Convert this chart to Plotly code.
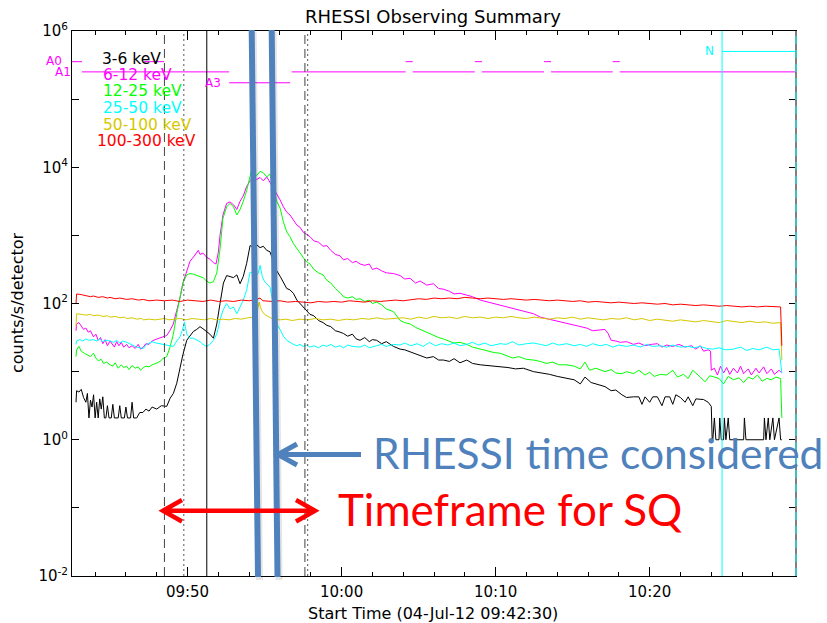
import numpy as np
import pandas as pd
import plotly.graph_objects as go

# ---------------- data (minutes after 09:42:30 ; log10 counts/s/detector) ----------------
START = pd.Timestamp("2012-07-04 09:42:30")
END_MIN = 47.0

t_3_6 = [0.26, 0.30, 0.45, 0.60, 0.75, 0.90, 1.00, 1.10, 1.20, 1.30, 1.40, 1.50, 1.60, 1.70, 1.80, 1.90, 2.00,
         2.10, 2.20, 2.30, 2.40, 2.55, 2.65, 2.75, 3.00, 3.10, 3.20, 3.40, 3.50, 3.60, 3.80, 3.90, 4.00, 4.20,
         4.40, 4.60, 4.80, 5.00, 5.20, 5.50, 5.80, 6.00, 6.15, 6.37, 6.58, 6.80, 7.01, 7.20, 7.45, 7.66, 7.88,
         8.10, 8.31, 8.50, 8.74, 8.95, 9.18, 9.40, 9.61, 9.83, 10.04, 10.26, 10.48, 10.70, 10.91, 11.12, 11.34,
         11.56, 11.77, 12.00, 12.21, 12.42, 12.64, 12.85, 13.07, 13.29, 13.51, 13.72, 13.94, 14.15, 14.37, 14.60,
         14.80, 15.00, 15.20, 15.45, 15.70, 16.00, 16.30, 16.54, 16.80, 17.10, 17.40, 17.62, 17.90, 18.20, 18.45,
         18.70, 19.00, 19.30, 19.50, 19.78, 20.10, 20.40, 20.87, 21.30, 21.60, 21.95, 22.30, 22.60, 23.03, 23.46,
         23.80, 24.11, 24.50, 24.80, 25.19, 25.63, 26.00, 26.50, 27.00, 27.79, 28.30, 28.80, 29.30, 29.96, 30.50,
         31.00, 31.50, 32.12, 32.60, 33.00, 33.30, 33.70, 34.29, 34.60, 35.00, 35.30, 35.70, 36.00, 36.45, 36.80,
         37.00, 37.20, 37.50, 37.70, 38.00, 38.30, 38.50, 38.80, 39.00, 39.20, 39.50, 39.80, 40.00, 40.30, 40.50,
         40.78, 41.00, 41.30, 41.50, 41.56, 41.60, 41.70, 41.80, 42.00, 42.05, 42.15, 42.30, 42.35, 42.45, 42.60,
         42.70, 43.60, 43.65, 43.75, 44.90, 44.95, 45.05, 45.20, 45.30, 45.50, 45.60, 45.90, 46.00, 46.08]
lg_3_6 = [0.55, 0.72, 0.70, 0.74, 0.62, 0.55, 0.68, 0.32, 0.58, 0.48, 0.66, 0.32, 0.55, 0.32, 0.60, 0.45, 0.63,
          0.32, 0.32, 0.50, 0.32, 0.32, 0.52, 0.32, 0.32, 0.50, 0.32, 0.32, 0.48, 0.32, 0.32, 0.55, 0.32, 0.32,
          0.40, 0.40, 0.45, 0.42, 0.48, 0.45, 0.50, 0.49, 0.49, 0.61, 0.68, 0.83, 1.07, 1.25, 1.46, 1.52, 1.59,
          1.62, 1.66, 1.63, 1.59, 1.55, 1.49, 1.70, 2.00, 2.30, 2.41, 2.40, 2.38, 2.42, 2.29, 2.40, 2.59,
          2.85, 2.83, 2.86, 2.82, 2.84, 2.78, 2.76, 2.62, 2.48, 2.40, 2.30, 2.22, 2.20, 2.15, 2.05,
          2.00, 1.95, 1.90, 1.84, 1.82, 1.75, 1.72, 1.68, 1.66, 1.60, 1.58, 1.56, 1.52, 1.55, 1.48,
          1.46, 1.50, 1.44, 1.47, 1.46, 1.41, 1.44, 1.37, 1.33, 1.32, 1.29, 1.26, 1.24, 1.20, 1.22,
          1.17, 1.17, 1.15, 1.19, 1.13, 1.17, 1.12, 1.10, 1.09, 1.07, 1.06, 1.04, 1.05, 1.00, 0.98,
          0.96, 0.93, 0.90, 0.88, 0.82, 0.92, 0.84, 0.80, 0.78, 0.72, 0.73, 0.66, 0.62, 0.63, 0.63,
          0.52, 0.63, 0.55, 0.63, 0.63, 0.50, 0.63, 0.63, 0.52, 0.66, 0.62, 0.55, 0.63, 0.50, 0.60,
          0.59, 0.59, 0.55, 0.49, 0.00, 0.00, 0.32, 0.00, 0.00, 0.32, 0.00, 0.00, 0.32, 0.00, 0.32,
          0.00, 0.00, 0.32, 0.00, 0.00, 0.32, 0.00, 0.32, 0.00, 0.32, 0.00, 0.32, 0.00, 0.00]

t_6_12 = [0.26, 0.30, 0.45, 0.60, 0.75, 0.90, 1.05, 1.20, 1.39, 1.55, 1.70, 1.85, 2.00, 2.15, 2.30, 2.47, 2.60,
          2.75, 2.90, 3.05, 3.20, 3.35, 3.55, 3.70, 3.90, 4.10, 4.30, 4.45, 4.63, 4.80, 5.00, 5.20, 5.40, 5.71,
          5.90, 6.15, 6.35, 6.58, 6.80, 7.01, 7.20, 7.45, 7.66, 7.88, 8.10, 8.20, 8.31, 8.50, 8.74, 8.95, 9.18,
          9.35, 9.50, 9.61, 9.80, 10.04, 10.26, 10.48, 10.70, 10.80, 10.91, 11.12, 11.34, 11.56, 11.77, 12.00,
          12.21, 12.42, 12.64, 12.85, 13.07, 13.29, 13.51, 13.72, 13.94, 14.15, 14.37, 14.60, 14.80, 15.00, 15.20,
          15.45, 15.70, 16.00, 16.30, 16.54, 16.80, 17.10, 17.40, 17.62, 17.90, 18.20, 18.45, 18.70, 19.00, 19.30,
          19.50, 19.78, 20.10, 20.40, 20.87, 21.30, 21.60, 21.95, 22.30, 22.60, 23.03, 23.46, 23.80, 24.11, 24.50,
          24.80, 25.19, 25.63, 26.00, 26.50, 27.00, 27.40, 27.79, 28.20, 28.60, 29.00, 29.50, 29.96, 30.40, 30.80,
          31.20, 31.60, 32.12, 32.60, 33.00, 33.40, 33.80, 34.29, 34.60, 34.80, 35.00, 35.30, 35.60, 36.00, 36.45,
          36.80, 37.20, 37.60, 38.00, 38.30, 38.61, 39.00, 39.40, 39.80, 40.20, 40.50, 40.78, 41.00, 41.30, 41.45,
          41.50, 41.70, 41.90, 42.10, 42.30, 42.50, 42.70, 42.94, 43.20, 43.40, 43.60, 43.90, 44.10, 44.40, 44.60,
          44.90, 45.11, 45.40, 45.60, 45.90, 46.08]
lg_6_12 = [1.60, 1.70, 1.72, 1.66, 1.62, 1.64, 1.58, 1.60, 1.51, 1.55, 1.46, 1.50, 1.41, 1.47, 1.38, 1.45, 1.40,
           1.36, 1.44, 1.38, 1.43, 1.36, 1.40, 1.35, 1.38, 1.34, 1.40, 1.33, 1.36, 1.41, 1.40, 1.45, 1.47, 1.49,
           1.51, 1.53, 1.60, 1.70, 1.90, 2.08, 2.30, 2.49, 2.62, 2.68, 2.74, 2.78, 2.72, 2.74, 2.68, 2.65, 2.60,
           2.58, 2.75, 3.00, 3.30, 3.47, 3.49, 3.45, 3.38, 3.45, 3.50, 3.58, 3.72, 3.80, 3.86, 3.82,
           3.85, 3.80, 3.86, 3.78, 3.70, 3.62, 3.52, 3.42, 3.34, 3.30, 3.22, 3.15, 3.12, 3.05, 3.02,
           2.98, 2.92, 2.90, 2.84, 2.85, 2.78, 2.72, 2.70, 2.64, 2.66, 2.60, 2.62, 2.58, 2.56, 2.58,
           2.50, 2.52, 2.48, 2.45, 2.44, 2.41, 2.36, 2.37, 2.30, 2.33, 2.27, 2.29, 2.22, 2.21, 2.18,
           2.14, 2.15, 2.12, 2.10, 2.05, 2.02, 2.00, 1.98, 1.95, 1.93, 1.90, 1.87, 1.85, 1.80, 1.78,
           1.75, 1.74, 1.71, 1.68, 1.66, 1.64, 1.60, 1.61, 1.62, 1.56, 1.46, 1.45, 1.43, 1.44, 1.40,
           1.42, 1.38, 1.40, 1.41, 1.36, 1.39, 1.37, 1.40, 1.36, 1.38, 1.33, 1.38, 1.30, 1.32, 1.30,
           1.02, 1.05, 0.95, 1.08, 0.98, 1.06, 0.96, 1.05, 0.98, 1.08, 0.97, 1.04, 0.95, 1.05, 0.98,
           1.07, 0.97, 1.04, 0.96, 1.02, 0.98]

t_12_25 = [0.26, 0.30, 0.45, 0.60, 0.80, 1.00, 1.20, 1.39, 1.55, 1.70, 1.90, 2.05, 2.25, 2.47, 2.65, 2.80, 3.00,
           3.20, 3.35, 3.55, 3.70, 3.90, 4.10, 4.30, 4.45, 4.63, 4.80, 5.00, 5.20, 5.45, 5.71, 5.90, 6.15, 6.35,
           6.58, 6.80, 7.01, 7.20, 7.45, 7.66, 7.88, 8.10, 8.31, 8.50, 8.74, 8.95, 9.18, 9.40, 9.61, 9.80, 10.04,
           10.26, 10.48, 10.70, 10.91, 11.12, 11.34, 11.56, 11.70, 11.77, 12.00, 12.21, 12.42, 12.64, 12.85, 13.07,
           13.29, 13.51, 13.72, 13.94, 14.15, 14.37, 14.60, 14.80, 15.00, 15.20, 15.45, 15.70, 16.00, 16.30, 16.54,
           16.80, 17.10, 17.40, 17.62, 17.90, 18.20, 18.45, 18.70, 19.00, 19.30, 19.50, 19.78, 20.10, 20.40, 20.87,
           21.30, 21.60, 21.95, 22.30, 22.60, 23.03, 23.46, 23.80, 24.11, 24.50, 24.80, 25.19, 25.63, 26.00, 26.50,
           27.00, 27.40, 27.79, 28.20, 28.60, 29.00, 29.50, 29.96, 30.40, 30.80, 31.20, 31.60, 32.12, 32.60, 33.00,
           33.30, 33.60, 34.00, 34.29, 34.60, 35.00, 35.30, 35.70, 36.00, 36.45, 36.80, 37.20, 37.50, 37.80, 38.20,
           38.61, 39.00, 39.30, 39.70, 40.00, 40.30, 40.78, 41.10, 41.40, 41.70, 42.00, 42.30, 42.60, 42.94, 43.30,
           43.60, 43.90, 44.20, 44.50, 44.80, 45.11, 45.40, 45.70, 46.00, 46.08]
lg_12_25 = [1.22, 1.32, 1.37, 1.30, 1.27, 1.25, 1.22, 1.27, 1.20, 1.16, 1.18, 1.12, 1.14, 1.10, 1.08, 1.13, 1.05,
            1.10, 1.06, 1.08, 1.03, 1.09, 1.05, 1.07, 1.02, 1.06, 1.08, 1.07, 1.10, 1.12, 1.15, 1.19, 1.22, 1.35,
            1.55, 1.85, 2.10, 2.30, 2.42, 2.44, 2.43, 2.41, 2.39, 2.38, 2.33, 2.30, 2.32, 2.45, 2.80, 3.25, 3.42,
            3.47, 3.42, 3.30, 3.38, 3.50, 3.66, 3.85, 4.00, 3.90, 3.88, 3.94, 3.92, 3.86, 3.90, 3.70,
            3.50, 3.40, 3.20, 3.05, 2.98, 2.88, 2.80, 2.75, 2.68, 2.62, 2.58, 2.50, 2.45, 2.42, 2.34,
            2.30, 2.22, 2.16, 2.10, 2.08, 2.10, 2.06, 2.07, 2.03, 2.05, 2.00, 2.02, 1.98, 1.92, 1.88,
            1.75, 1.72, 1.70, 1.65, 1.62, 1.58, 1.53, 1.50, 1.48, 1.45, 1.42, 1.43, 1.40, 1.36, 1.33,
            1.30, 1.28, 1.27, 1.24, 1.20, 1.22, 1.18, 1.17, 1.15, 1.12, 1.14, 1.10, 1.10, 1.08, 1.04,
            1.14, 1.02, 1.05, 1.02, 1.00, 1.03, 0.98, 0.97, 1.00, 0.97, 1.02, 0.95, 0.99, 0.93, 0.96,
            0.95, 1.02, 0.92, 0.96, 0.90, 1.02, 0.92, 0.85, 0.94, 0.92, 0.90, 0.82, 0.93, 0.88, 0.91,
            0.84, 0.92, 0.89, 0.95, 0.86, 0.90, 0.88, 0.92, 0.90, 0.32]

t_25_50 = [0.26, 0.30, 0.50, 0.70, 0.90, 1.10, 1.39, 1.60, 1.80, 2.00, 2.20, 2.47, 2.70, 2.90, 3.10, 3.30, 3.55,
           3.80, 4.00, 4.20, 4.40, 4.63, 4.85, 5.00, 5.20, 5.45, 5.71, 5.90, 6.15, 6.35, 6.58, 6.80, 7.01, 7.15,
           7.30, 7.45, 7.66, 7.88, 8.10, 8.31, 8.50, 8.74, 8.95, 9.18, 9.40, 9.61, 9.80, 10.04, 10.26, 10.48, 10.70,
           10.91, 11.12, 11.34, 11.56, 11.77, 12.00, 12.10, 12.21, 12.35, 12.50, 12.64, 12.85, 13.07, 13.29, 13.51,
           13.72, 13.94, 14.15, 14.37, 14.60, 14.80, 15.00, 15.20, 15.45, 15.70, 16.00, 16.30, 16.54, 16.80, 17.10,
           17.40, 17.62, 17.90, 18.20, 18.70, 19.00, 19.30, 19.78, 20.10, 20.40, 20.87, 21.30, 21.60, 22.00, 22.40,
           22.80, 23.20, 23.60, 24.00, 24.40, 24.80, 25.20, 25.63, 26.00, 26.40, 26.80, 27.20, 27.79, 28.20, 28.60,
           29.00, 29.50, 29.96, 30.40, 30.80, 31.20, 31.60, 32.12, 32.60, 33.00, 33.40, 33.80, 34.29, 34.70, 35.10,
           35.50, 36.00, 36.45, 36.90, 37.30, 37.70, 38.20, 38.61, 39.00, 39.50, 40.00, 40.40, 40.78, 41.20, 41.60,
           42.00, 42.40, 42.94, 43.40, 43.80, 44.20, 44.60, 45.11, 45.50, 45.90, 46.08]
lg_25_50 = [1.40, 1.45, 1.47, 1.45, 1.48, 1.46, 1.47, 1.45, 1.48, 1.44, 1.46, 1.45, 1.43, 1.46, 1.42, 1.45, 1.43,
            1.40, 1.38, 1.36, 1.35, 1.34, 1.40, 1.42, 1.44, 1.42, 1.41, 1.40, 1.39, 1.38, 1.37, 1.45, 1.51, 1.60,
            1.73, 1.55, 1.49, 1.49, 1.46, 1.44, 1.40, 1.37, 1.40, 1.46, 1.55, 1.76, 1.90, 2.00, 1.92, 1.95, 1.85,
            1.95, 2.05, 2.20, 2.46, 2.45, 2.42, 2.45, 2.56, 2.40, 2.32, 2.29, 2.24, 2.00, 1.70, 1.62,
            1.52, 1.46, 1.43, 1.40, 1.38, 1.40, 1.37, 1.39, 1.36, 1.38, 1.35, 1.39, 1.37, 1.40, 1.36,
            1.38, 1.35, 1.39, 1.37, 1.36, 1.39, 1.35, 1.38, 1.40, 1.37, 1.40, 1.39, 1.42, 1.38, 1.41,
            1.37, 1.43, 1.38, 1.41, 1.39, 1.42, 1.38, 1.40, 1.43, 1.39, 1.42, 1.38, 1.41, 1.40, 1.44,
            1.39, 1.41, 1.42, 1.40, 1.38, 1.42, 1.39, 1.41, 1.38, 1.40, 1.37, 1.41, 1.38, 1.40, 1.36,
            1.39, 1.37, 1.39, 1.36, 1.40, 1.37, 1.38, 1.36, 1.39, 1.36, 1.37, 1.35, 1.37, 1.34, 1.33,
            1.35, 1.32, 1.33, 1.36, 1.31, 1.34, 1.32, 1.36, 1.32, 1.33, 0.98]

t_50_100 = [0.26, 0.30, 0.60, 0.90, 1.20, 1.39, 1.70, 2.00, 2.30, 2.47, 2.80, 3.10, 3.40, 3.55, 3.90, 4.20, 4.50,
            4.63, 5.00, 5.40, 5.71, 6.00, 6.30, 6.60, 7.00, 7.40, 7.80, 8.20, 8.60, 9.00, 9.40, 9.80, 10.20, 10.60,
            11.00, 11.40, 11.80, 12.00, 12.15, 12.30, 12.50, 12.80, 13.10, 13.50, 13.90, 14.30, 14.80, 15.30, 15.80,
            16.30, 16.80, 17.30, 17.80, 18.30, 18.80, 19.30, 19.80, 20.30, 20.87, 21.50, 22.00, 22.50, 23.00, 23.50,
            24.00, 24.50, 25.00, 25.50, 26.00, 26.50, 27.00, 27.50, 28.00, 28.50, 29.00, 29.50, 30.00, 30.50, 31.00,
            31.50, 32.00, 32.50, 33.00, 33.50, 34.00, 34.50, 35.00, 35.50, 36.00, 36.50, 37.00, 37.50, 38.00, 38.50,
            39.00, 39.50, 40.00, 40.50, 41.00, 41.50, 42.00, 42.50, 43.00, 43.50, 44.00, 44.50, 45.00, 45.50, 46.00,
            46.08]
lg_50_100 = [1.66, 1.85, 1.84, 1.83, 1.84, 1.82, 1.83, 1.81, 1.82, 1.80, 1.81, 1.79, 1.80, 1.78, 1.79, 1.77, 1.78,
             1.76, 1.77, 1.76, 1.77, 1.78, 1.76, 1.77, 1.78, 1.76, 1.78, 1.77, 1.76, 1.78, 1.76, 1.77, 1.76, 1.78,
             1.77, 1.79, 1.80, 1.86, 2.02, 1.90, 1.84, 1.80, 1.77, 1.76, 1.77, 1.75, 1.77, 1.76, 1.78,
             1.76, 1.77, 1.75, 1.77, 1.76, 1.78, 1.77, 1.79, 1.77, 1.78, 1.79, 1.77, 1.80, 1.78, 1.81,
             1.79, 1.80, 1.78, 1.81, 1.79, 1.80, 1.78, 1.80, 1.79, 1.81, 1.79, 1.78, 1.80, 1.79, 1.77,
             1.79, 1.78, 1.80, 1.77, 1.79, 1.78, 1.76, 1.78, 1.77, 1.79, 1.76, 1.78, 1.75, 1.77, 1.76,
             1.74, 1.76, 1.75, 1.73, 1.75, 1.74, 1.72, 1.75, 1.73, 1.72, 1.74, 1.72, 1.73, 1.71, 1.72,
             1.17]

t_100_300 = [0.26, 0.30, 0.60, 0.90, 1.20, 1.39, 1.70, 2.00, 2.30, 2.47, 2.80, 3.10, 3.55, 3.90, 4.30, 4.63, 5.00,
             5.50, 6.00, 6.50, 7.00, 7.50, 8.00, 8.50, 9.00, 9.50, 10.00, 10.50, 11.00, 11.50, 12.00, 12.20, 12.40,
             13.00, 13.50, 14.00, 14.50, 15.00, 15.50, 16.00, 16.50, 17.00, 17.50, 18.00, 18.50, 19.00, 19.50, 20.00,
             20.50, 21.00, 21.50, 22.00, 22.50, 23.00, 23.50, 24.00, 24.50, 25.00, 25.50, 26.00, 26.50, 27.00, 27.50,
             28.00, 28.50, 29.00, 29.50, 30.00, 30.50, 31.00, 31.50, 32.00, 32.50, 33.00, 33.50, 34.00, 34.50, 35.00,
             35.50, 36.00, 36.50, 37.00, 37.50, 38.00, 38.50, 39.00, 39.50, 40.00, 40.50, 41.00, 41.50, 42.00, 42.50,
             43.00, 43.50, 44.00, 44.50, 45.00, 45.50, 46.00, 46.08]
lg_100_300 = [2.00, 2.14, 2.13, 2.12, 2.10, 2.11, 2.09, 2.10, 2.08, 2.09, 2.07, 2.08, 2.06, 2.07, 2.05, 2.06, 2.04,
              2.05, 2.04, 2.05, 2.03, 2.05, 2.04, 2.03, 2.05, 2.03, 2.04, 2.03, 2.05, 2.04, 2.06, 2.08, 2.04,
              2.03, 2.04, 2.02, 2.03, 2.02, 2.01, 2.03, 2.02, 2.03, 2.02, 2.04, 2.03, 2.02, 2.04, 2.03,
              2.04, 2.05, 2.04, 2.06, 2.07, 2.06, 2.08, 2.07, 2.08, 2.07, 2.09, 2.08, 2.07, 2.08, 2.07,
              2.06, 2.07, 2.06, 2.05, 2.06, 2.05, 2.04, 2.05, 2.04, 2.03, 2.04, 2.02, 2.03, 2.02, 2.01,
              2.02, 2.01, 2.00, 2.01, 2.00, 1.99, 2.00, 1.98, 1.99, 1.98, 1.97, 1.98, 1.97, 1.96, 1.97,
              1.96, 1.95, 1.96, 1.95, 1.96, 1.95, 1.95, 1.38]

band_names = ["3-6 keV", "6-12 keV", "12-25 keV", "25-50 keV", "50-100 keV", "100-300 keV"]
band_colors = ["#000000", "#FF00FF", "#00FF00", "#00FFFF", "#D6C800", "#FF0000"]

# attenuator states: (start min, end min, state)
atten_intervals = [(0.0, 0.65, "A0"), (4.68, 5.97, "A0"), (0.65, 10.2, "A1"), (10.2, 14.16, "A3"),
                   (14.26, 21.66, "A1"), (21.66, 22.12, "A0"), (22.12, 26.15, "A1"), (26.15, 26.61, "A0"),
                   (26.61, 30.64, "A1"), (30.64, 31.10, "A0"), (31.10, 35.10, "A1"), (35.10, 35.56, "A0"),
                   (35.56, 47.0, "A1")]
atten_level = {"A0": 10 ** 5.55, "A1": 10 ** 5.40, "A3": 10 ** 5.24}
night_interval = (42.2, 47.0)
night_level = 10 ** 5.70

# event time markers (minutes after start)
marker_dashed = [6.0, 15.12]
marker_dotted = [7.26, 15.30]
marker_solid = [8.75]
night_start = 42.2


def tt(m):
    return START + pd.to_timedelta(np.asarray(m, dtype=float), unit="min")


fig = go.Figure()
series = [(t_3_6, lg_3_6), (t_6_12, lg_6_12), (t_12_25, lg_12_25),
          (t_25_50, lg_25_50), (t_50_100, lg_50_100), (t_100_300, lg_100_300)]
for (t, lg), name, col in zip(series, band_names, band_colors):
    fig.add_trace(go.Scatter(x=tt(t), y=np.power(10.0, lg), mode="lines", name=name,
                             line=dict(color=col, width=1), showlegend=False))

# attenuator state lines
ax, ay = [], []
for s, e, st in atten_intervals:
    ax += [tt([s])[0], tt([e])[0], None]
    ay += [atten_level[st], atten_level[st], None]
fig.add_trace(go.Scatter(x=ax, y=ay, mode="lines", line=dict(color="#FF00FF", width=1), showlegend=False))
fig.add_trace(go.Scatter(x=tt(list(night_interval)), y=[night_level, night_level], mode="lines",
                         line=dict(color="#00FFFF", width=1), showlegend=False))

# plot area in pixels
L, R, T, B = 72, 796, 31, 576
W, H = 827, 623


def px(x):
    return (x - L) / (R - L)


def py(y):
    return (B - y) / (B - T)


shapes = []
for m in marker_dashed:
    shapes.append(dict(type="line", xref="x", yref="paper", x0=tt([m])[0], x1=tt([m])[0], y0=0, y1=1,
                       line=dict(color="#444444", width=1, dash="9px,5px")))
for m in marker_dotted:
    shapes.append(dict(type="line", xref="x", yref="paper", x0=tt([m])[0], x1=tt([m])[0], y0=0, y1=1,
                       line=dict(color="#555555", width=1, dash="2px,3px")))
for m in marker_solid:
    shapes.append(dict(type="line", xref="x", yref="paper", x0=tt([m])[0], x1=tt([m])[0], y0=0, y1=1,
                       line=dict(color="#000000", width=1)))
shapes.append(dict(type="line", xref="x", yref="paper", x0=tt([night_start])[0], x1=tt([night_start])[0],
                   y0=0, y1=1, line=dict(color="#00FFFF", width=1)))
# right border (grey) with cyan dashes
shapes.append(dict(type="line", xref="paper", yref="paper", x0=1, x1=1, y0=0, y1=1,
                   line=dict(color="#808080", width=2)))
shapes.append(dict(type="line", xref="paper", yref="paper", x0=1, x1=1, y0=0, y1=1,
                   line=dict(color="#00FFFF", width=1, dash="8px,6px")))

BLUE = "#4F81BD"
# thick blue bars (with light shadow)
for (xa, xb) in [(251.7, 258.0), (271.7, 277.5)]:
    shapes.append(dict(type="line", xref="paper", yref="paper", x0=px(xa + 1.5), y0=py(32), x1=px(xb + 1.5),
                       y1=py(580), line=dict(color="rgba(0,0,0,0.10)", width=7)))
    shapes.append(dict(type="line", xref="paper", yref="paper", x0=px(xa), y0=py(30), x1=px(xb), y1=py(577),
                       line=dict(color=BLUE, width=6)))


def path(points_list):
    s = ""
    for pts in points_list:
        s += "M %.5f %.5f " % (px(pts[0][0]), py(pts[0][1]))
        for p in pts[1:]:
            s += "L %.5f %.5f " % (px(p[0]), py(p[1]))
    return s.strip()


# blue arrow
shapes.append(dict(type="path", xref="paper", yref="paper",
                   path=path([[(361, 454.5), (278, 454.5)], [(297, 444), (278, 454.5), (297, 465)]]),
                   line=dict(color=BLUE, width=5)))
# red double arrow
shapes.append(dict(type="path", xref="paper", yref="paper",
                   path=path([[(163, 510.7), (315, 510.7)], [(182, 500), (163, 510.7), (182, 521.5)],
                              [(296, 500), (315, 510.7), (296, 521.5)]]),
                   line=dict(color="#FF0000", width=4.5)))

IDL = "DejaVu Sans"
ann = []
ann.append(dict(text="RHESSI Observing Summary", xref="paper", yref="paper", x=px(433), y=py(16.5),
                xanchor="center", yanchor="middle", showarrow=False, font=dict(family=IDL, size=18, color="#000")))
ann.append(dict(text="Start Time (04-Jul-12 09:42:30)", xref="paper", yref="paper", x=px(433), y=py(613),
                xanchor="center", yanchor="middle", showarrow=False, font=dict(family=IDL, size=16, color="#000")))
ann.append(dict(text="counts/s/detector", xref="paper", yref="paper", x=px(17), y=py(303), textangle=-90,
                xanchor="center", yanchor="middle", showarrow=False, font=dict(family=IDL, size=16, color="#000")))
leg_pos = [(100, 59.5), (101, 75.5), (101, 91.5), (101, 108), (101, 124.5), (95, 140.5)]
for name, col, (lx, ly) in zip(band_names, band_colors, leg_pos):
    ann.append(dict(text=name, xref="paper", yref="paper", x=px(lx), y=py(ly), xanchor="left", yanchor="middle",
                    showarrow=False, font=dict(family=IDL, size=15.5, color=col)))
for lab, (lx, ly) in [("A0", (64, 61.5)), ("A1", (73, 72)), ("A3", (223, 83))]:
    ann.append(dict(text=lab, xref="paper", yref="paper", x=px(lx), y=py(ly), xanchor="right", yanchor="middle",
                    showarrow=False, font=dict(family=IDL, size=12, color="#FF00FF")))
ann.append(dict(text="N", xref="paper", yref="paper", x=px(709), y=py(51.5), xanchor="center", yanchor="middle",
                showarrow=False, font=dict(family=IDL, size=12, color="#00FFFF")))
ann.append(dict(text="RHESSI time considered", xref="paper", yref="paper", x=px(371), y=py(452),
                xanchor="left", yanchor="middle", showarrow=False, font=dict(family="Lato", size=42.5, color=BLUE)))
ann.append(dict(text="Timeframe for SQ", xref="paper", yref="paper", x=px(336), y=py(509),
                xanchor="left", yanchor="middle", showarrow=False, font=dict(family="Lato", size=44, color="#FF0000")))

yt = [1e-2, 1, 1e2, 1e4, 1e6]
ytext = ["10<sup>-2</sup>", "10<sup>0</sup>", "10<sup>2</sup>", "10<sup>4</sup>", "10<sup>6</sup>"]

fig.update_layout(
    width=W, height=H, margin=dict(l=L, r=W - R, t=T, b=H - B),
    paper_bgcolor="white", plot_bgcolor="white",
    shapes=shapes, annotations=ann, showlegend=False,
    xaxis=dict(type="date", range=[START, tt([END_MIN])[0]], tick0="2012-07-04 09:50:00", dtick=600000,
               tickformat="%H:%M", ticks="inside", ticklen=9, tickcolor="black", tickwidth=1,
               minor=dict(dtick=120000, tick0="2012-07-04 09:50:00", ticks="inside", ticklen=4,
                          tickcolor="black", tickwidth=1),
               showline=True, linecolor="black", linewidth=1, mirror="allticks", showgrid=False, zeroline=False,
               tickfont=dict(family=IDL, size=15, color="#000"), ticklabelstandoff=2),
    yaxis=dict(type="log", range=[-2, 6], tickmode="array", tickvals=yt, ticktext=ytext,
               ticks="inside", ticklen=7, tickcolor="black", tickwidth=1,
               minor=dict(tickmode="array", tickvals=[1e-1, 1e1, 1e3, 1e5], ticks="inside", ticklen=7,
                          tickcolor="black", tickwidth=1),
               showline=True, linecolor="black", linewidth=1, mirror="allticks", showgrid=False, zeroline=False,
               tickfont=dict(family=IDL, size=15, color="#000")),
)

fig.write_html("out.html")
